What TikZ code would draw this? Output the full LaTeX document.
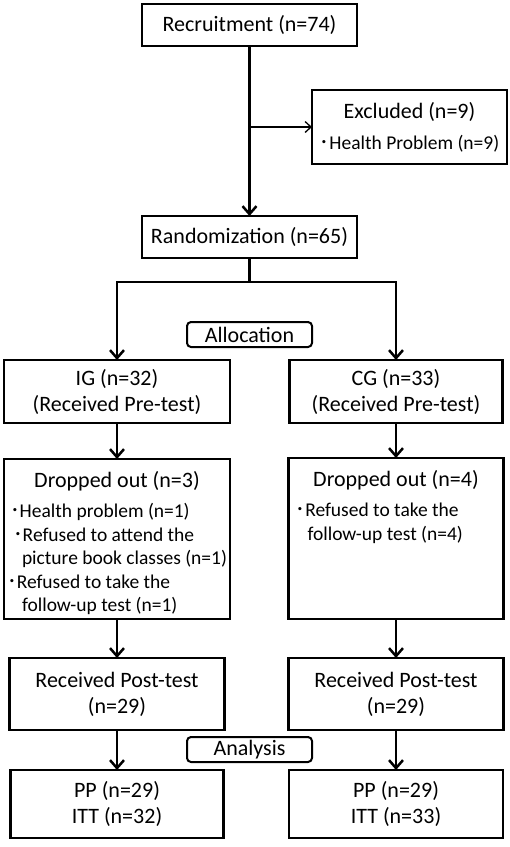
\documentclass[tikz,border=0pt]{standalone}
\usepackage{fontspec}
\setmainfont{Carlito}
\newfontfamily\cjk{Noto Sans CJK JP}
\usetikzlibrary{arrows.meta,positioning}

\newcommand{\dotmark}{{\cjk ･}}

\begin{document}
\begin{tikzpicture}[
    x=1pt, y=1pt,
    node distance=36pt,
    box/.style={rectangle, draw, line width=2.5pt, outer sep=0pt, minimum width=215pt, minimum height=42pt, align=center, font=\fontsize{22}{26}\selectfont},
    tag/.style={rectangle, draw, rounded corners=4pt, line width=2pt, outer sep=0pt, minimum width=125pt, minimum height=25pt, inner sep=0pt, font=\fontsize{22}{26}\selectfont},
    arrow/.style={-{Straight Barb[length=8pt, width=14pt]}, line width=2.5pt},
    thinarrow/.style={-{Straight Barb[length=6pt, width=11pt]}, line width=1.3pt}
]
\useasboundingbox (0,0) rectangle (510,-847);

% Enrolment
\node[box] (recruit) at (249.5,-25) {Recruitment (n=74)};
\node[box, below=170pt of recruit] (random) {Randomization (n=65)};
\coordinate[below=81pt of recruit] (split);
\node[box, right=62.5pt of split, minimum width=195pt, minimum height=74pt] (excl) {Excluded (n=9)\\[5pt]{\fontsize{19.5}{23.5}\selectfont\dotmark Health Problem (n=9)}};

% Allocation
\coordinate[below=24pt of random] (fork);
\node[tag, below=64pt of random] (alloc) {Allocation};
\node[box, below=102pt of random, xshift=-132.5pt, minimum width=226pt, minimum height=63pt] (ig) {IG (n=32)\\(Received Pre-test)};
\node[box, below=102pt of random, xshift=146.5pt, minimum width=213pt, minimum height=63pt] (cg) {CG (n=33)\\(Received Pre-test)};

% Drop-outs
\node[box, below=36pt of ig, minimum width=226pt, inner sep=3pt] (dropig) {\begin{minipage}[t][154pt][t]{220pt}
\vspace*{9pt}\centering Dropped out (n=3)\par
\vspace{7pt}\raggedright\fontsize{19.5}{23.5}\selectfont
\hspace*{3pt}\dotmark Health problem (n=1)\\
\hspace*{6pt}\dotmark Refused to attend the\\
\hspace*{15pt}picture book classes (n=1)\\
\dotmark Refused to take the\\
\hspace*{15pt}follow-up test (n=1)
\end{minipage}};
\node[box, below=35pt of cg, inner sep=3pt] (dropcg) {\begin{minipage}[t][155pt][t]{209pt}
\vspace*{9pt}\centering Dropped out (n=4)\par
\vspace{7pt}\raggedright\fontsize{19.5}{23.5}\selectfont
\hspace*{4pt}\dotmark Refused to take the\\
\hspace*{16pt}follow-up test (n=4)
\end{minipage}};

% Analysis
\node[box, below=39pt of dropig, minimum height=72pt] (postig) {Received Post-test\\(n=29)};
\node[box, below=39pt of dropcg, minimum height=72pt] (postcg) {Received Post-test\\(n=29)};
\node[tag, anchor=north, yshift=-7pt] (anal) at (alloc |- postig.south) {Analysis};
\node[box, below=40pt of postig, minimum width=213pt, minimum height=68pt] (ppig) {PP (n=29)\\ITT (n=32)};
\node[box, below=40pt of postcg, minimum width=214pt, minimum height=68pt] (ppcg) {PP (n=29)\\ITT (n=33)};

% Flow arrows
\draw[arrow] (recruit) -- (random);
\draw[thinarrow] (split) -- (excl);
\draw[line width=2.5pt] (random) -- (fork);
\draw[arrow] (fork) -| (ig);
\draw[arrow] (fork) -| (cg);
\draw[arrow] (ig) -- (dropig);
\draw[arrow] (cg) -- (dropcg);
\draw[arrow] (dropig) -- (postig);
\draw[arrow] (dropcg) -- (postcg);
\draw[arrow] (postig) -- (ppig);
\draw[arrow] (postcg) -- (ppcg);

\end{tikzpicture}
\end{document}
